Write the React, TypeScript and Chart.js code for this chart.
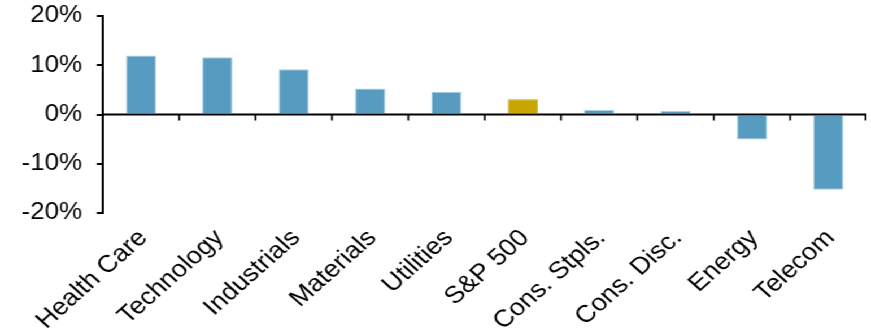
import React, { useEffect, useRef } from "react";
import { Chart, registerables } from "chart.js";

Chart.register(...registerables);

// Sector returns, percent
const categories = [
  "Health Care",
  "Technology",
  "Industrials",
  "Materials",
  "Utilities",
  "S&P 500",
  "Cons. Stpls.",
  "Cons. Disc.",
  "Energy",
  "Telecom",
];
const returns = [12.0, 11.6, 9.2, 5.3, 4.6, 3.1, 0.9, 0.7, -5.1, -15.3];
const highlight = "S&P 500";

const yMin = -20;
const yMax = 20;
const yStep = 10;

const BLUE = "#579bc0";
const BLUE_EDGE = "#a9cfe3";
const GOLD = "#c8a500";

const FONT = "'Liberation Sans', Arial, sans-serif";

// The drawing is laid out on a narrower canvas and widened with CSS.
const WIDTH = 771;
const HEIGHT = 336;
const STRETCH = 871 / WIDTH;

// Zero line with category tick marks hanging below it.
const zeroAxisPlugin = {
  id: "zeroAxis",
  afterDatasetsDraw(chart: any) {
    const { ctx, scales } = chart;
    const x = scales.x;
    const y = scales.y;
    const y0 = y.getPixelForValue(0);
    const step = x.getPixelForValue(1) - x.getPixelForValue(0);
    ctx.save();
    ctx.strokeStyle = "#000";
    ctx.lineWidth = 2;
    ctx.beginPath();
    ctx.moveTo(x.left, y0);
    ctx.lineTo(x.right, y0);
    ctx.stroke();
    ctx.lineWidth = 1.6;
    ctx.beginPath();
    for (let i = 1; i <= categories.length; i++) {
      let px = x.getPixelForValue(i - 1) + step / 2;
      if (i === categories.length) px = x.right - 0.8;
      ctx.moveTo(px, y0);
      ctx.lineTo(px, y0 + 6);
    }
    ctx.stroke();
    ctx.restore();
  },
};

export default function App() {
  const canvasRef = useRef<HTMLCanvasElement | null>(null);

  useEffect(() => {
    const canvas = canvasRef.current;
    if (!canvas) return;
    const chart = new Chart(canvas, {
      type: "bar",
      data: {
        labels: categories,
        datasets: [
          {
            data: returns,
            backgroundColor: categories.map((c) => (c === highlight ? GOLD : BLUE)),
            borderColor: categories.map((c) => (c === highlight ? GOLD : BLUE_EDGE)),
            borderWidth: 1,
            categoryPercentage: 1,
            barPercentage: 0.395,
          },
        ],
      },
      options: {
        responsive: false,
        animation: false,
        devicePixelRatio: 1,
        layout: { padding: { left: 0, right: 4, top: 16, bottom: 0 } },
        plugins: {
          legend: { display: false },
          tooltip: { enabled: false },
        },
        scales: {
          x: {
            grid: { display: false },
            border: { display: false },
            ticks: {
              autoSkip: false,
              minRotation: 45,
              maxRotation: 45,
              padding: 3,
              labelOffset: 2,
              color: "#000",
              font: { family: FONT, size: 24 },
            },
            afterFit(scale: any) {
              scale.height = 123;
            },
          },
          y: {
            min: yMin,
            max: yMax,
            grid: {
              drawOnChartArea: false,
              drawTicks: true,
              tickLength: 5.3,
              color: "#000",
              lineWidth: 2,
            },
            border: { display: true, color: "#000", width: 2 },
            ticks: {
              stepSize: yStep,
              padding: 13,
              color: "#000",
              font: { family: FONT, size: 23 },
              callback: (v: any) => `${v}%`,
            },
            afterFit(scale: any) {
              scale.width = 91;
              scale.paddingTop = 0;
              scale.paddingBottom = 0;
            },
          },
        },
      },
      plugins: [zeroAxisPlugin],
    });
    return () => chart.destroy();
  }, []);

  return (
    <div
      style={{
        position: "absolute",
        left: 0,
        top: 0,
        width: WIDTH,
        height: HEIGHT,
        transform: `scaleX(${STRETCH})`,
        transformOrigin: "0 0",
        background: "#fff",
      }}
    >
      <canvas ref={canvasRef} width={WIDTH} height={HEIGHT} />
    </div>
  );
}
